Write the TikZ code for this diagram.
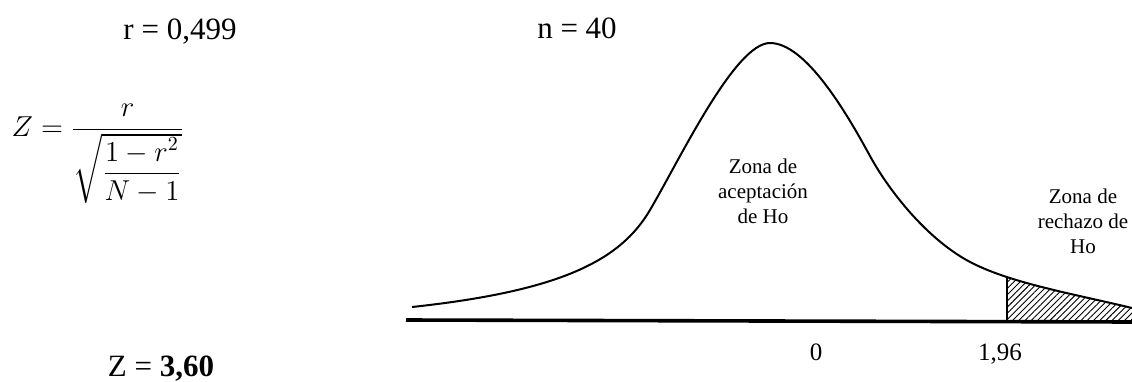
\documentclass[tikz,border=0pt]{standalone}
\usepackage{amsmath}
\usepackage{fontspec}
\setmainfont{Liberation Serif}
\usetikzlibrary{patterns.meta}
\tikzset{
  big/.style={font=\fontsize{15.5}{18}\selectfont, inner sep=0pt},
  zona/.style={font=\fontsize{10.5}{12.5}\selectfont, align=center, inner sep=0pt},
  tick/.style={font=\fontsize{12.5}{15}\selectfont, inner sep=0pt},
  curve/.style={line width=1pt},
  axis/.style={line width=1.8pt},
  tail/.style={pattern={Lines[angle=45,distance=2.2pt,line width=0.45pt]}},
}
% curva de la distribucion
\def\campana{(412,307) .. controls (560,291) and (620,261) .. (650,210)
  .. controls (680,159) and (735,43) .. (770,43)
  .. controls (805,43) and (845,110) .. (870,156)
  .. controls (888,189) and (923,234) .. (963,258)
  .. controls (1003,282) and (1070,293) .. (1132,308)}
\begin{document}
\begin{tikzpicture}[x=0.5pt,y=-0.5pt]
    \useasboundingbox (0,0) rectangle (1132,381);
    % datos
    \node[big,anchor=base] (rval) at (180,39) {r = 0,499};
    \node[big,anchor=base] (nval) at (577,38) {n = 40};
    \node[font=\fontsize{14.2}{17}\selectfont,inner sep=0pt] (zform) at (98,154)
      {$\displaystyle Z=\frac{r}{\sqrt{\dfrac{1-r^{2}}{N-1}}}$};
    \node[big,anchor=base] (zres) at (161,376) {Z = \textbf{3,60}};
    % zona de rechazo
    \begin{scope}
      \clip \campana -- (1132,330) -- (412,330) -- cycle;
      \fill[tail] (1007,200) rectangle (1132,321);
      \draw[line width=0.6pt] (1007,321) -- (1007,200);
    \end{scope}
    \draw[curve] \campana;
    \draw[axis] (406,320) -- (1132,322);
    % etiquetas
    \node[tick,anchor=base] (cero) at (816,360) {0};
    \node[tick,anchor=base] (crit) at (1000,360) {1,96};
    \node[zona] (acep) at (763,191) {Zona de\\aceptación\\de Ho};
    \node[zona] (rech) at (1083,221) {Zona de\\rechazo de\\Ho};
\end{tikzpicture}
\end{document}
